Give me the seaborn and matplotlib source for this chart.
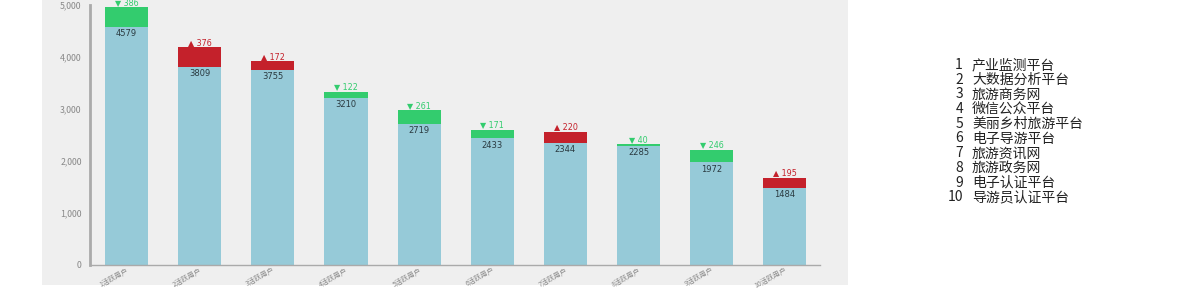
import matplotlib
matplotlib.use("Agg")
import matplotlib.pyplot as plt
import seaborn as sns
import pandas as pd
from matplotlib.patches import Rectangle
from matplotlib.ticker import FuncFormatter

sns.set_theme(style="white")
plt.rcParams['font.family'] = ['Noto Sans CJK SC', 'DejaVu Sans']

categories = ["1活跃用户", "2活跃用户", "3活跃用户", "4活跃用户", "5活跃用户",
              "6活跃用户", "7活跃用户", "8活跃用户", "9活跃用户", "10活跃用户"]
base_values = [4579, 3809, 3755, 3210, 2719, 2433, 2344, 2285, 1972, 1484]
change_values = [386, 376, 172, 122, 261, 171, 220, 40, 246, 195]
change_dir = ["down", "up", "up", "down", "down", "down", "up", "down", "down", "up"]
legend_names = ["产业监测平台", "大数据分析平台", "旅游商务网", "微信公众平台", "美丽乡村旅游平台",
                "电子导游平台", "旅游资讯网", "旅游政务网", "电子认证平台", "导游员认证平台"]

BLUE = "#96cad8"
GREEN = "#33cc6e"
RED = "#c4212b"

df = pd.DataFrame({
    "cat": categories,
    "base": base_values,
    "change": change_values,
    "dir": change_dir,
})
df["total"] = df["base"] + df["change"]

W, H = 1190, 288
fig = plt.figure(figsize=(W / 100, H / 100), dpi=100)
fig.patches.append(Rectangle((42 / W, 3 / H), (848 - 42) / W, 1 - 3 / H,
                             transform=fig.transFigure, facecolor="#efefef",
                             edgecolor="none", zorder=-10))

ax = fig.add_axes([90 / W, (H - 265) / H, 730 / W, 260 / H])
ax.set_facecolor("none")
ax.set_zorder(5)

sns.barplot(data=df, x="cat", y="total", hue="dir", order=categories,
            palette={"up": RED, "down": GREEN}, dodge=False, width=0.59,
            saturation=1, legend=False, linewidth=0, ax=ax)
sns.barplot(data=df, x="cat", y="base", order=categories, color=BLUE,
            width=0.59, saturation=1, linewidth=0, ax=ax)

for i, row in df.iterrows():
    col = GREEN if row["dir"] == "down" else RED
    sym = "▼" if row["dir"] == "down" else "▲"
    ax.text(i, row["total"] + 5, f"{sym} {row['change']}", ha="center", va="bottom",
            fontsize=5.8, color=col, family=['DejaVu Sans'])
    ax.text(i, row["base"] - 40, f"{row['base']}", ha="center", va="top",
            fontsize=6, color="#2a3a40", family=['DejaVu Sans'])

ax.set_xlim(-0.5, 9.48)
ax.set_ylim(0, 5000)
ax.set_yticks([0, 1000, 2000, 3000, 4000, 5000])
ax.yaxis.set_major_formatter(FuncFormatter(lambda v, p: f"{int(v):,}"))
ax.tick_params(axis="y", labelsize=6.3, colors="#888888", length=0, pad=6)
ax.tick_params(axis="x", labelsize=5, colors="#888888", length=0, pad=1)
plt.setp(ax.get_xticklabels(), rotation=28, ha="right", rotation_mode="anchor")
ax.set_xlabel("")
ax.set_ylabel("")
for s in ["top", "right"]:
    ax.spines[s].set_visible(False)
ax.spines["left"].set_color("#aaaaaa")
ax.spines["left"].set_linewidth(2)
ax.spines["bottom"].set_color("#aaaaaa")
ax.spines["bottom"].set_linewidth(1)

for k, name in enumerate(legend_names):
    y = (H - (65 + k * 14.7)) / H
    fig.text(963 / W, y, str(k + 1), ha="right", va="center", fontsize=10, color="#222222")
    fig.text(972 / W, y, name, ha="left", va="center", fontsize=10, color="#222222")

fig.savefig("out.png", dpi=100)
